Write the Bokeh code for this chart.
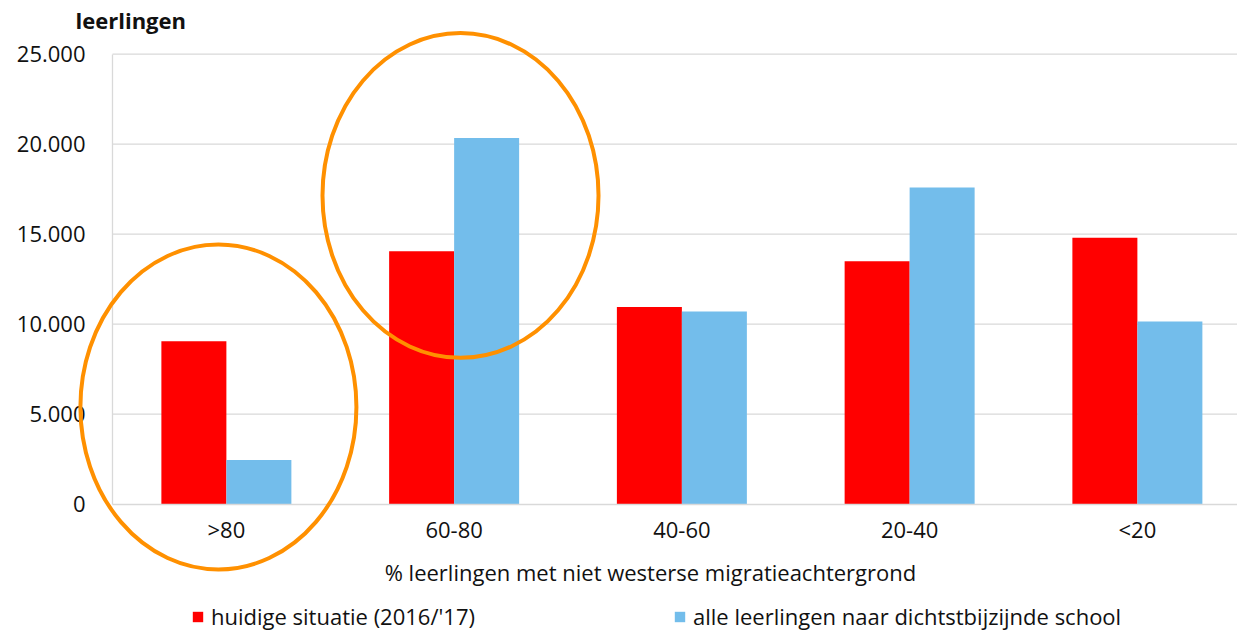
from bokeh.plotting import figure
from bokeh.models import (Range1d, LinearAxis, FixedTicker, Label, Legend,
                          LegendItem, ColumnDataSource)
from bokeh.transform import dodge
from bokeh.embed import file_html
from bokeh.resources import INLINE

# ---------------- data ----------------
categories = [">80", "60-80", "40-60", "20-40", "<20"]
huidig = [9050, 14050, 10950, 13500, 14800]
dichtstbij = [2450, 20350, 10700, 17600, 10150]
series_names = ["huidige situatie (2016/'17)",
                "alle leerlingen naar dichtstbijzijnde school"]
y_ticks = [0, 5000, 10000, 15000, 20000, 25000]
y_tick_labels = ["0", "5.000", "10.000", "15.000", "20.000", "25.000"]
y_title = "leerlingen"
x_title = "% leerlingen met niet westerse migratieachtergrond"
highlight = [">80", "60-80"]

# ---------------- style ----------------
FONT = "Open Sans"
FS = "22px"
TXT = "#111111"
GRID = "#D9D9D9"
RED = "#FF0000"
BLUE = "#73BDEB"
ORANGE = "#FF9000"

n = len(categories)
xs = list(range(n))

p = figure(width=1237, height=633, output_backend="svg", toolbar_location=None,
           x_range=Range1d(-0.9918, 4.4396), y_range=Range1d(-7183, 27983),
           x_axis_type=None, y_axis_type=None, min_border=0,
           outline_line_color=None)
p.xgrid.visible = False
p.ygrid.visible = False

# gridlines
p.segment(x0=-0.5, x1=n, y0=y_ticks[1:], y1=y_ticks[1:],
          line_color=GRID, line_width=1.3)

src = ColumnDataSource(dict(x=xs, huidig=huidig, dichtstbij=dichtstbij))
bw = 0.2854
r1 = p.vbar(x=dodge("x", -bw / 2, range=p.x_range), top="huidig", width=bw,
            source=src, fill_color=RED, line_color=None)
r2 = p.vbar(x=dodge("x", bw / 2, range=p.x_range), top="dichtstbij", width=bw,
            source=src, fill_color=BLUE, line_color=None)

# axes
yaxis = LinearAxis(fixed_location=-0.5, bounds=(0, 25000),
                   ticker=FixedTicker(ticks=y_ticks),
                   major_label_overrides=dict(zip(y_ticks, y_tick_labels)),
                   major_tick_in=0, major_tick_out=0, minor_tick_in=0,
                   minor_tick_out=0, axis_line_color=GRID, axis_line_width=1.3,
                   major_label_standoff=27,
                   major_label_text_font=FONT, major_label_text_font_size=FS,
                   major_label_text_color=TXT)
p.add_layout(yaxis, "left")

xaxis = LinearAxis(fixed_location=0, bounds=(-0.5, n),
                   ticker=FixedTicker(ticks=xs),
                   major_label_overrides=dict(zip(xs, categories)),
                   major_tick_in=0, major_tick_out=0, minor_tick_in=0,
                   minor_tick_out=0, axis_line_color=GRID, axis_line_width=1.3,
                   major_label_standoff=10,
                   major_label_text_font=FONT, major_label_text_font_size=FS,
                   major_label_text_color=TXT)
p.add_layout(xaxis, "below")

# highlight ellipses
hx = [categories.index(c) for c in highlight]
e = p.ellipse(x=[hx[0] - 0.035, hx[1] + 0.028], y=[5400, 17150],
              width=1.212, height=18050, fill_color=None,
              line_color=ORANGE, line_width=4)
e.level = "overlay"

# titles
p.add_layout(Label(x=-0.6625, y=26872, text=y_title, text_font=FONT,
                   text_font_size=FS, text_font_style="bold",
                   text_color=TXT, text_baseline="middle"))
p.add_layout(Label(x=1.862, y=-3739, text=x_title, text_font=FONT,
                   text_font_size=FS, text_color=TXT, text_align="center",
                   text_baseline="middle"))

# legend
legend = Legend(items=[LegendItem(label=series_names[0], renderers=[r1]),
                       LegendItem(label=series_names[1], renderers=[r2])],
                orientation="horizontal", location=(191, 2),
                glyph_width=13, glyph_height=13, label_standoff=7,
                label_width=462, spacing=0, padding=0, margin=0,
                border_line_color=None, background_fill_alpha=0,
                label_text_font=FONT, label_text_font_size=FS,
                label_text_color=TXT)
p.add_layout(legend)

open("out.html", "w").write(file_html(p, INLINE))
